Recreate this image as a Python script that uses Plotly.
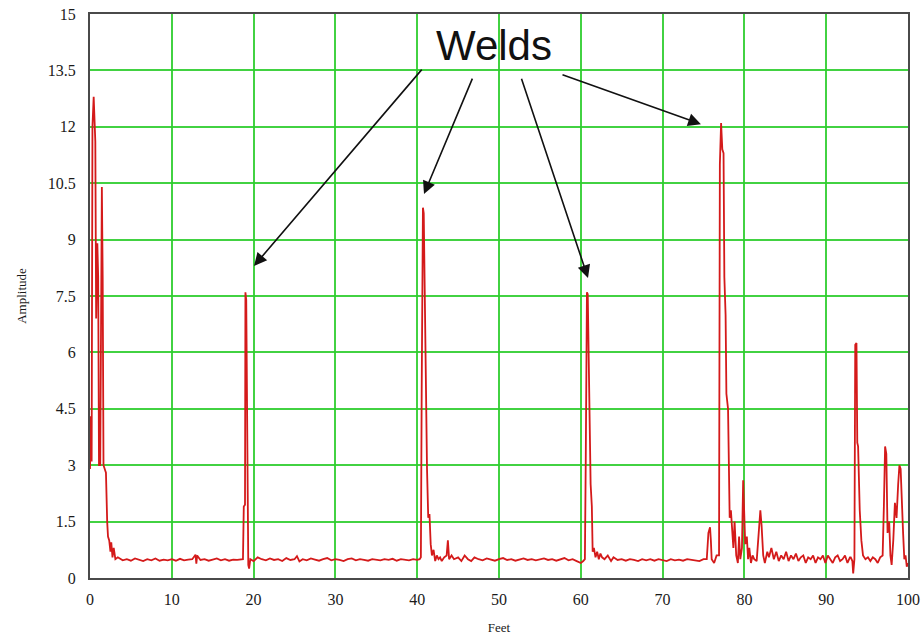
import plotly.graph_objects as go

# ---- data: (feet, amplitude) pairs, by segment ----
start_zone = [(0.0, 2.9), (0.1, 4.3), (0.2, 3.1), (0.3, 12.0), (0.45, 12.8), (0.55, 12.2),
              (0.65, 11.6), (0.75, 6.9), (0.9, 8.9), (1.0, 8.0), (1.1, 3.0), (1.25, 3.0),
              (1.45, 10.4), (1.55, 8.0), (1.65, 3.0), (1.8, 2.9), (1.95, 2.8), (2.1, 1.5),
              (2.2, 1.1), (2.35, 1.0), (2.5, 0.7), (2.6, 0.95), (2.75, 0.55), (2.9, 0.8),
              (3.1, 0.5), (3.4, 0.55)]
base_a = [(4.0, 0.47), (4.5, 0.5), (5.0, 0.46), (5.5, 0.52), (6.0, 0.48), (6.5, 0.45),
          (7.0, 0.5), (7.5, 0.47), (8.0, 0.52), (8.5, 0.46), (9.0, 0.49), (9.5, 0.47),
          (10.0, 0.5), (10.5, 0.46), (11.0, 0.51), (11.5, 0.47), (12.0, 0.49), (12.5, 0.5),
          (12.9, 0.62), (13.0, 0.38), (13.1, 0.6), (13.5, 0.48), (14.0, 0.5), (14.5, 0.46),
          (15.0, 0.49), (15.5, 0.52), (16.0, 0.47), (16.5, 0.5), (17.0, 0.46), (17.5, 0.49),
          (18.0, 0.48), (18.5, 0.5)]
weld_19 = [(18.7, 0.5), (18.8, 1.9), (18.95, 1.95), (19.0, 7.6), (19.1, 7.4), (19.15, 6.0),
           (19.25, 1.9), (19.35, 0.35), (19.45, 0.25)]
base_b = [(19.6, 0.5), (20.0, 0.45), (20.5, 0.55), (21.0, 0.5), (21.5, 0.47), (22.0, 0.52),
          (22.5, 0.48), (23.0, 0.5), (23.5, 0.45), (24.0, 0.53), (24.5, 0.48), (25.0, 0.5),
          (25.3, 0.58), (25.6, 0.44), (26.0, 0.5), (26.5, 0.47), (27.0, 0.52), (27.5, 0.49),
          (28.0, 0.46), (28.5, 0.5), (29.0, 0.53), (29.5, 0.47), (30.0, 0.5), (30.5, 0.48),
          (31.0, 0.45), (31.5, 0.5), (32.0, 0.52), (32.5, 0.47), (33.0, 0.5), (33.5, 0.48),
          (34.0, 0.46), (34.5, 0.5), (35.0, 0.49), (35.5, 0.47), (36.0, 0.5), (36.5, 0.48),
          (37.0, 0.51), (37.5, 0.46), (38.0, 0.5), (38.5, 0.48), (39.0, 0.47), (39.5, 0.5),
          (40.0, 0.48)]
weld_41 = [(40.3, 0.5), (40.45, 0.55), (40.55, 5.0), (40.7, 9.85), (40.8, 9.7), (40.9, 8.0),
           (41.0, 5.5), (41.1, 3.1), (41.2, 2.9), (41.35, 1.6), (41.5, 1.7), (41.65, 0.9),
           (41.8, 0.6), (42.0, 0.75), (42.2, 0.45), (42.4, 0.6), (42.6, 0.5), (42.8, 0.55),
           (43.0, 0.45), (43.3, 0.55), (43.6, 0.6), (43.75, 1.0), (43.9, 0.5), (44.2, 0.6)]
base_c = [(44.5, 0.5), (45.0, 0.55), (45.4, 0.45), (45.8, 0.6), (46.2, 0.5), (46.6, 0.45),
          (47.0, 0.55), (47.5, 0.5), (48.0, 0.47), (48.5, 0.52), (49.0, 0.5), (49.5, 0.46),
          (50.0, 0.5), (50.5, 0.53), (51.0, 0.48), (51.5, 0.5), (52.0, 0.46), (52.5, 0.5),
          (53.0, 0.52), (53.5, 0.48), (54.0, 0.5), (54.5, 0.47), (55.0, 0.5), (55.5, 0.52),
          (56.0, 0.48), (56.5, 0.5), (57.0, 0.46), (57.5, 0.5), (58.0, 0.53), (58.5, 0.47),
          (59.0, 0.5), (59.5, 0.45), (60.0, 0.4), (60.3, 0.45)]
weld_61 = [(60.5, 0.5), (60.6, 3.0), (60.75, 7.6), (60.85, 7.55), (61.0, 5.0), (61.1, 4.4),
           (61.2, 2.5), (61.35, 1.9), (61.45, 0.7), (61.6, 0.8), (61.8, 0.55), (62.0, 0.7),
           (62.2, 0.5), (62.4, 0.65), (62.6, 0.55)]
base_d = [(62.9, 0.5), (63.3, 0.6), (63.7, 0.45), (64.0, 0.55), (64.5, 0.48), (65.0, 0.5),
          (65.5, 0.46), (66.0, 0.5), (66.5, 0.48), (67.0, 0.45), (67.5, 0.5), (68.0, 0.47),
          (68.5, 0.5), (69.0, 0.46), (69.5, 0.5), (70.0, 0.48), (70.5, 0.45), (71.0, 0.5),
          (71.5, 0.47), (72.0, 0.49), (72.5, 0.46), (73.0, 0.5), (73.5, 0.48), (74.0, 0.46),
          (74.5, 0.45), (75.0, 0.5), (75.4, 0.5)]
weld_77 = [(75.6, 1.2), (75.8, 1.35), (75.9, 1.0), (76.0, 0.5), (76.3, 0.4), (76.6, 0.6),
           (76.9, 0.6), (77.0, 11.0), (77.15, 12.1), (77.3, 11.4), (77.45, 11.3), (77.55, 8.0),
           (77.7, 7.0), (77.8, 4.9), (78.0, 4.5), (78.1, 2.0), (78.2, 1.6), (78.35, 1.8),
           (78.5, 1.4), (78.65, 0.8), (78.8, 1.5), (79.0, 0.6), (79.2, 0.4), (79.35, 1.1),
           (79.5, 0.5), (79.7, 0.8), (79.85, 2.6), (80.0, 1.4), (80.1, 0.9), (80.3, 1.1),
           (80.45, 0.5), (80.6, 0.8), (80.8, 0.4), (81.0, 0.6), (81.2, 0.5), (81.5, 0.45),
           (81.8, 1.2), (81.95, 1.8), (82.1, 1.4), (82.3, 0.6), (82.5, 0.4)]
tail_zone = [(82.8, 0.7), (83.0, 0.55), (83.3, 0.8), (83.6, 0.5), (83.9, 0.7), (84.2, 0.45),
             (84.5, 0.6), (84.8, 0.5), (85.1, 0.7), (85.4, 0.45), (85.7, 0.6), (86.0, 0.5),
             (86.3, 0.65), (86.6, 0.45), (86.9, 0.55), (87.2, 0.6), (87.5, 0.4), (87.8, 0.55),
             (88.1, 0.5), (88.4, 0.6), (88.7, 0.4), (89.0, 0.55), (89.3, 0.5), (89.6, 0.6),
             (89.9, 0.4), (90.2, 0.6), (90.5, 0.5), (90.8, 0.4), (91.1, 0.55), (91.4, 0.6),
             (91.7, 0.45), (92.0, 0.5), (92.3, 0.6), (92.6, 0.4), (92.9, 0.55), (93.0, 0.55),
             (93.2, 0.45), (93.3, 0.12), (93.45, 0.5), (93.55, 6.2), (93.7, 6.25), (93.8, 3.6),
             (93.9, 3.5), (94.1, 1.8), (94.3, 1.0), (94.5, 0.6), (94.8, 0.5), (95.1, 0.55),
             (95.4, 0.45), (95.7, 0.55), (96.0, 0.5), (96.3, 0.4), (96.6, 0.55), (96.9, 0.6),
             (97.05, 1.9), (97.2, 3.5), (97.35, 3.3), (97.5, 1.2), (97.7, 1.5), (97.85, 0.6),
             (98.0, 0.35), (98.2, 1.0), (98.4, 2.0), (98.6, 1.6), (98.8, 2.5), (98.95, 3.0),
             (99.1, 2.9), (99.25, 1.8), (99.4, 1.2), (99.55, 0.5), (99.7, 0.6), (99.85, 0.3),
             (100.0, 0.4)]

x_ticks = [0, 10, 20, 30, 40, 50, 60, 70, 80, 90, 100]
y_ticks = [0, 1.5, 3, 4.5, 6, 7.5, 9, 10.5, 12, 13.5, 15]
y_tick_labels = ["0", "1.5", "3", "4.5", "6", "7.5", "9", "10.5", "12", "13.5", "15"]

segments = [start_zone, base_a, weld_19, base_b, weld_41, base_c, weld_61,
            base_d, weld_77, tail_zone]
feet = [p[0] for seg in segments for p in seg]
amplitude = [p[1] for seg in segments for p in seg]

fig = go.Figure()
fig.add_trace(go.Scatter(x=feet, y=amplitude, mode="lines",
                         line=dict(color="#d41a1a", width=1.8), showlegend=False,
                         hoverinfo="skip"))

grid_color = "rgba(45,205,45,0.9)"
serif = "Liberation Serif, Times New Roman, serif"

fig.update_layout(
    width=924, height=636,
    margin=dict(l=90, r=16, t=14, b=58),
    paper_bgcolor="white", plot_bgcolor="white",
    font=dict(family=serif, size=16, color="#1a1a1a"),
    xaxis=dict(range=[0, 100], tickvals=x_ticks, showgrid=True, gridcolor=grid_color,
               gridwidth=2, showline=True, linecolor="#4a4a4a", linewidth=2, mirror=True,
               zeroline=False, ticks="", ticklabelstandoff=6, automargin=False,
               title=dict(text="Feet", font=dict(family=serif, size=13), standoff=16)),
    yaxis=dict(range=[0, 15], tickvals=y_ticks, ticktext=y_tick_labels, showgrid=True,
               gridcolor=grid_color, gridwidth=2, showline=True, linecolor="#4a4a4a",
               linewidth=2, mirror=True, zeroline=False, ticks="", ticklabelstandoff=9,
               automargin=False,
               title=dict(text="Amplitude", font=dict(family=serif, size=13), standoff=18)),
)

fig.add_annotation(x=49.4, y=14.15, xref="x", yref="y", text="Welds", showarrow=False,
                   font=dict(family="Liberation Sans, Arial, sans-serif", size=42, color="#111"))

arrows = [((20.05, 8.30), (40.71, 13.56)),
          ((40.83, 10.21), (46.82, 13.32)),
          ((60.88, 7.98), (52.69, 13.32)),
          ((74.69, 12.07), (57.58, 13.40))]
for (tx, ty), (sx, sy) in arrows:
    fig.add_annotation(x=tx, y=ty, ax=sx, ay=sy, xref="x", yref="y", axref="x", ayref="y",
                       text="", showarrow=True, arrowhead=2, arrowsize=1.6, arrowwidth=1.6,
                       arrowcolor="#111", standoff=0, startstandoff=0)

fig.write_html("out.html")
